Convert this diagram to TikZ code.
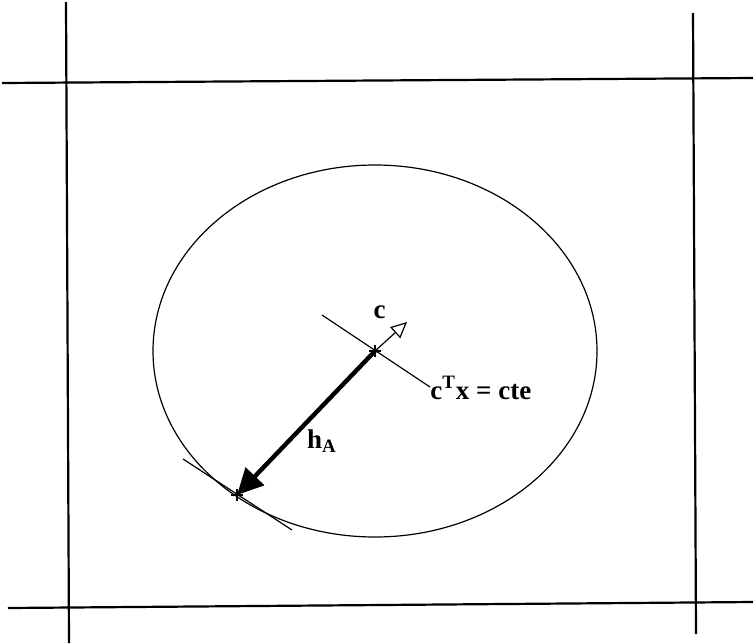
\documentclass[tikz,border=0pt]{standalone}
\usepackage{amsmath}
\usepackage{fontspec}
\setmainfont{Liberation Serif}
\usepackage{tikz}
\usetikzlibrary{calc,arrows.meta}

\begin{document}
\begin{tikzpicture}[x=0.5pt, y=-0.5pt, >=Stealth,
    frame/.style={line width=1.1pt},
    fine/.style={line width=0.6pt},
    lbl/.style={font=\fontsize{13.5}{15}\selectfont\bfseries, inner sep=1pt}]
    \useasboundingbox (0,0) rectangle (753,643);
    \def\cx{375}    % centre of the ellipse
    \def\cy{351}
    \def\rx{222}    % half axes
    \def\ry{186}

    % Outer frame lines (crossing at the corners)
    \draw[frame] (66,2) -- (69,643);
    \draw[frame] (693,13) -- (696,634);
    \draw[frame] (2,83) -- (753,78);
    \draw[frame] (8,608) -- (753,602);

    % Ellipse
    \draw[fine] (\cx,\cy) ellipse [x radius=\rx, y radius=\ry];

    % Key points
    \coordinate (O) at (\cx,\cy);
    \coordinate (A) at (237,495);
    \coordinate (C) at (407,322);
    \coordinate (levelL) at (322,315);
    \coordinate (levelR) at (430,387);
    \coordinate (tanL) at (183,459);
    \coordinate (tanR) at (292,530);

    % Level line c^T x = cte and the tangent at A
    \draw[fine] (levelL) -- (levelR);
    \draw[fine] (tanL) -- (tanR);

    % Small crosses
    \draw[fine] ($(O)+(-6,0)$) -- ++(12,0) ($(O)+(0,-6)$) -- ++(0,12);
    \draw[fine] ($(A)+(-6,0)$) -- ++(12,0) ($(A)+(0,-6)$) -- ++(0,12);

    % Cost vector c
    \draw[fine, -{Triangle[open, length=8pt, width=7.5pt, fill=white]}] (O) -- (C);
    \node[lbl, anchor=east] (labc) at (388,312) {c};

    % Distance h_A
    \draw[line width=2.2pt, -{Triangle[length=13pt, width=12.5pt]}] (O) -- (A);
    \node[lbl] (labh) at (322,441) {h\textsubscript{A}};

    % Level line label
    \node[lbl, anchor=west] (labcte) at (428,388) {c\textsuperscript{T}x = cte};
\end{tikzpicture}
\end{document}
